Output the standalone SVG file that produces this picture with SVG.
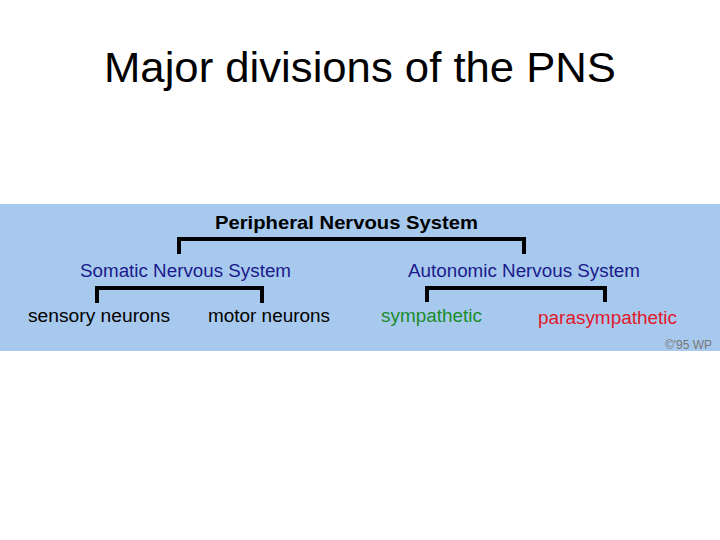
<svg xmlns="http://www.w3.org/2000/svg" width="720" height="540" viewBox="0 0 720 540">
<style>
.t{font-family:"Liberation Sans",Arial,sans-serif;font-size:18px}
.b{fill:none;stroke:#000;stroke-width:4}
</style>
<rect width="720" height="540" fill="#fff"/>
<text x="104" y="82" textLength="512" lengthAdjust="spacingAndGlyphs" style="font-family:'Liberation Sans',Arial,sans-serif;font-size:42px">Major divisions of the PNS</text>
<rect x="0" y="204" width="720" height="147" fill="#a8c9ee"/>
<g id="connectors">
<path class="b" d="M179 254V239H524V254"/>
<path class="b" d="M97 303V288H262V303"/>
<path class="b" d="M427 302V288H605V302"/>
</g>
<g id="pns"><text class="t" x="215" y="229" textLength="263" lengthAdjust="spacingAndGlyphs" font-weight="bold" font-size="19">Peripheral Nervous System</text></g>
<g id="somatic"><text class="t" x="80" y="277" textLength="211" lengthAdjust="spacingAndGlyphs" fill="#1a1a8c">Somatic Nervous System</text></g>
<g id="autonomic"><text class="t" x="408" y="277" textLength="232" lengthAdjust="spacingAndGlyphs" fill="#1a1a8c">Autonomic Nervous System</text></g>
<g id="sensory"><text class="t" x="28" y="322" textLength="142" lengthAdjust="spacingAndGlyphs">sensory neurons</text></g>
<g id="motor"><text class="t" x="208" y="322" textLength="122" lengthAdjust="spacingAndGlyphs">motor neurons</text></g>
<g id="symp"><text class="t" x="381" y="322" textLength="101" lengthAdjust="spacingAndGlyphs" fill="#1a8c2a">sympathetic</text></g>
<g id="para"><text class="t" x="538" y="324" textLength="139" lengthAdjust="spacingAndGlyphs" fill="#e0182a">parasympathetic</text></g>
<text x="665" y="349" textLength="47" lengthAdjust="spacingAndGlyphs" style="font-family:'Liberation Sans',Arial,sans-serif;font-size:12px" fill="#777">©'95 WP</text>
</svg>
